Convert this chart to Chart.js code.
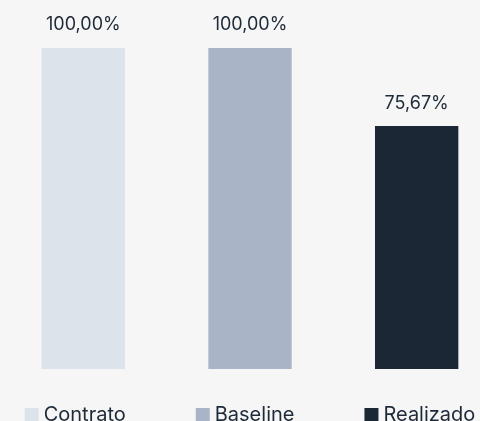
<!DOCTYPE html>
<html lang="pt">
  <head>
    <meta charset="UTF-8" />
    <title>Contrato x Baseline x Realizado</title>
    <style>
      html,
      body {
        margin: 0;
        padding: 0;
        width: 480px;
        height: 421px;
        overflow: hidden;
        background-color: #f6f6f6;
      }
      #avanco {
        display: block;
      }
    </style>
  </head>
  <body>
    <canvas id="avanco" width="500" height="440"></canvas>
    <script src="https://cdn.jsdelivr.net/npm/chart.js"></script>
    <script>
      const categorias = ["Contrato", "Baseline", "Realizado"];
      const percentuais = [100.0, 100.0, 75.67];
      const cores = ["#dce3eb", "#a9b5c6", "#1c2736"];

      const corTexto = "#1e2a38";
      const legendFont = 20;

      const formatPct = (v) => v.toFixed(2).replace(".", ",") + "%";

      // rótulos acima das barras
      const rotulos = {
        id: "rotulos",
        afterDatasetsDraw(chart) {
          const ctx = chart.ctx;
          const meta = chart.getDatasetMeta(0);
          ctx.save();
          ctx.font = "18px Inter";
          ctx.fillStyle = corTexto;
          ctx.textAlign = "center";
          ctx.textBaseline = "middle";
          meta.data.forEach((bar, i) => {
            ctx.fillText(formatPct(percentuais[i]), bar.x, bar.y - 23);
          });
          ctx.restore();
        },
      };

      // legenda desenhada à mão: uma linha, quadrado colado ao texto, itens bem espaçados
      const legenda = {
        id: "legenda",
        afterDraw(chart) {
          const ctx = chart.ctx;
          const area = chart.chartArea;
          const box = 14;
          const gapTexto = 5;
          const gapItens = 70;
          ctx.save();
          ctx.font = legendFont + "px Inter";
          ctx.textBaseline = "middle";
          ctx.textAlign = "left";
          const larguras = categorias.map(
            (c) => box + gapTexto + ctx.measureText(c).width
          );
          const total =
            larguras.reduce((a, b) => a + b, 0) +
            gapItens * (categorias.length - 1);
          let x = (area.left + area.right) / 2 - total / 2;
          const y = area.bottom + 39;
          categorias.forEach((c, i) => {
            ctx.fillStyle = cores[i];
            ctx.fillRect(x, y, box, box);
            ctx.fillStyle = corTexto;
            ctx.fillText(c, x + box + gapTexto, y + box / 2);
            x += larguras[i] + gapItens;
          });
          ctx.restore();
        },
      };

      new Chart(document.getElementById("avanco"), {
        type: "bar",
        data: {
          labels: categorias,
          datasets: [
            {
              data: percentuais,
              backgroundColor: cores,
              borderWidth: 0,
              barPercentage: 0.5,
              categoryPercentage: 1,
            },
          ],
        },
        options: {
          responsive: false,
          animation: false,
          layout: { padding: { top: 48, bottom: 71 } },
          scales: {
            x: { display: false },
            y: { display: false, min: 0, max: 100 },
          },
          plugins: {
            tooltip: { enabled: false },
            legend: { display: false },
          },
        },
        plugins: [rotulos, legenda],
      });
    </script>
  </body>
</html>
